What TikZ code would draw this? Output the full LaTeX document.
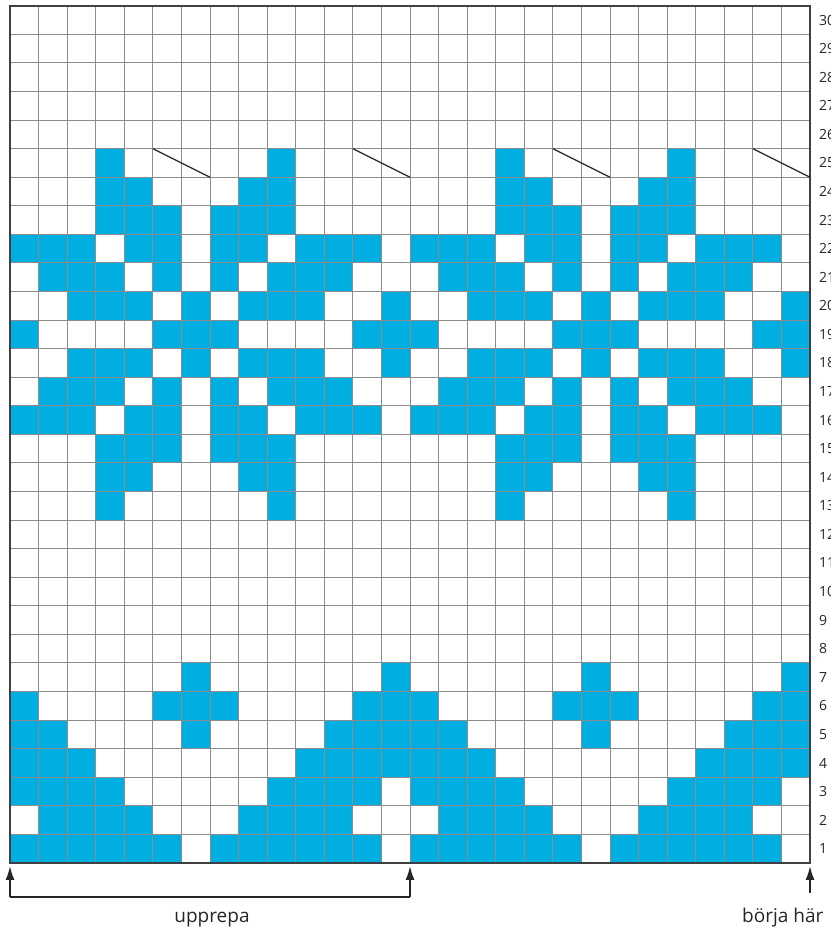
\documentclass[tikz,border=0pt]{standalone}
\usepackage{fontspec}
\setmainfont{Open Sans}
\usetikzlibrary{arrows.meta}
\definecolor{knitblue}{RGB}{0,174,226}
\begin{document}
\begin{tikzpicture}[x=1pt,y=1pt,
  gridline/.style={draw=black!45,line width=1pt},
  cellfill/.style={fill=knitblue},
  rownum/.style={anchor=west,inner sep=0pt,font=\fontsize{14}{14}\selectfont,text=black!85},
  decrease/.style={draw=black!85,line width=1.2pt},
  pointer/.style={draw=black!85,line width=1.6pt,-{Latex[length=14pt,width=9pt]}},
  bracketline/.style={draw=black!85,line width=1.6pt},
  caption/.style={inner sep=0pt,font=\fontsize{19}{19}\selectfont,text=black!85}]
\useasboundingbox (0,0) rectangle (830,933);
\fill[white] (0,0) rectangle (830,933);
\begin{scope}[shift={(10pt,70pt)},x=28.5714pt,y=28.5714pt]
  \foreach \r/\cols in {
    1/{1,2,3,4,5,6,8,9,10,11,12,13},
    2/{2,3,4,5,9,10,11,12},
    3/{1,2,3,4,10,11,12,13},
    4/{1,2,3,11,12,13,14},
    5/{1,2,7,12,13,14},
    6/{1,6,7,8,13,14},
    7/{7,14},
    13/{4,10},
    14/{4,5,9,10},
    15/{4,5,6,8,9,10},
    16/{1,2,3,5,6,8,9,11,12,13},
    17/{2,3,4,6,8,10,11,12},
    18/{3,4,5,7,9,10,11,14},
    19/{1,6,7,8,13,14},
    20/{3,4,5,7,9,10,11,14},
    21/{2,3,4,6,8,10,11,12},
    22/{1,2,3,5,6,8,9,11,12,13},
    23/{4,5,6,8,9,10},
    24/{4,5,9,10},
    25/{4,10}}
  {\foreach \c in \cols {\foreach \k in {0,14} {
      \fill[cellfill] ({\c+\k-1},{\r-1}) rectangle ++(1,1);}}}
  \foreach \i in {1,...,27} \draw[gridline] (\i,0) -- (\i,30);
  \foreach \j in {1,...,29} \draw[gridline] (0,\j) -- (28,\j);
  \draw[draw=black!75,line width=1.8pt] (0,0) rectangle (28,30);
  \foreach \k in {0,14} {
    \draw[decrease] ({5+\k},25) -- ({7+\k},24);
    \draw[decrease] ({12+\k},25) -- ({14+\k},24);}
  \foreach \r in {1,...,30}
    \node[rownum,xshift=9pt] (n\r) at (28,{\r-0.5}) {\r};
  \coordinate (gl) at (0,0);
  \coordinate (gm) at (14,0);
  \coordinate (gr) at (28,0);
\end{scope}
\coordinate (bl) at (10,36);
\coordinate (bm) at (410,36);
\coordinate (br) at (810,40);
\coordinate (tl) at (10,67);
\coordinate (tm) at (410,67);
\coordinate (tr) at (810,67);
\draw[bracketline] (bl) -- (bm);
\draw[pointer] (bl) -- (tl);
\draw[pointer] (bm) -- (tm);
\draw[pointer] (br) -- (tr);
\node[caption,anchor=base] (rep) at (212,10) {upprepa};
\node[caption,anchor=base west] (start) at (742,10) {börja här};
\end{tikzpicture}
\end{document}
